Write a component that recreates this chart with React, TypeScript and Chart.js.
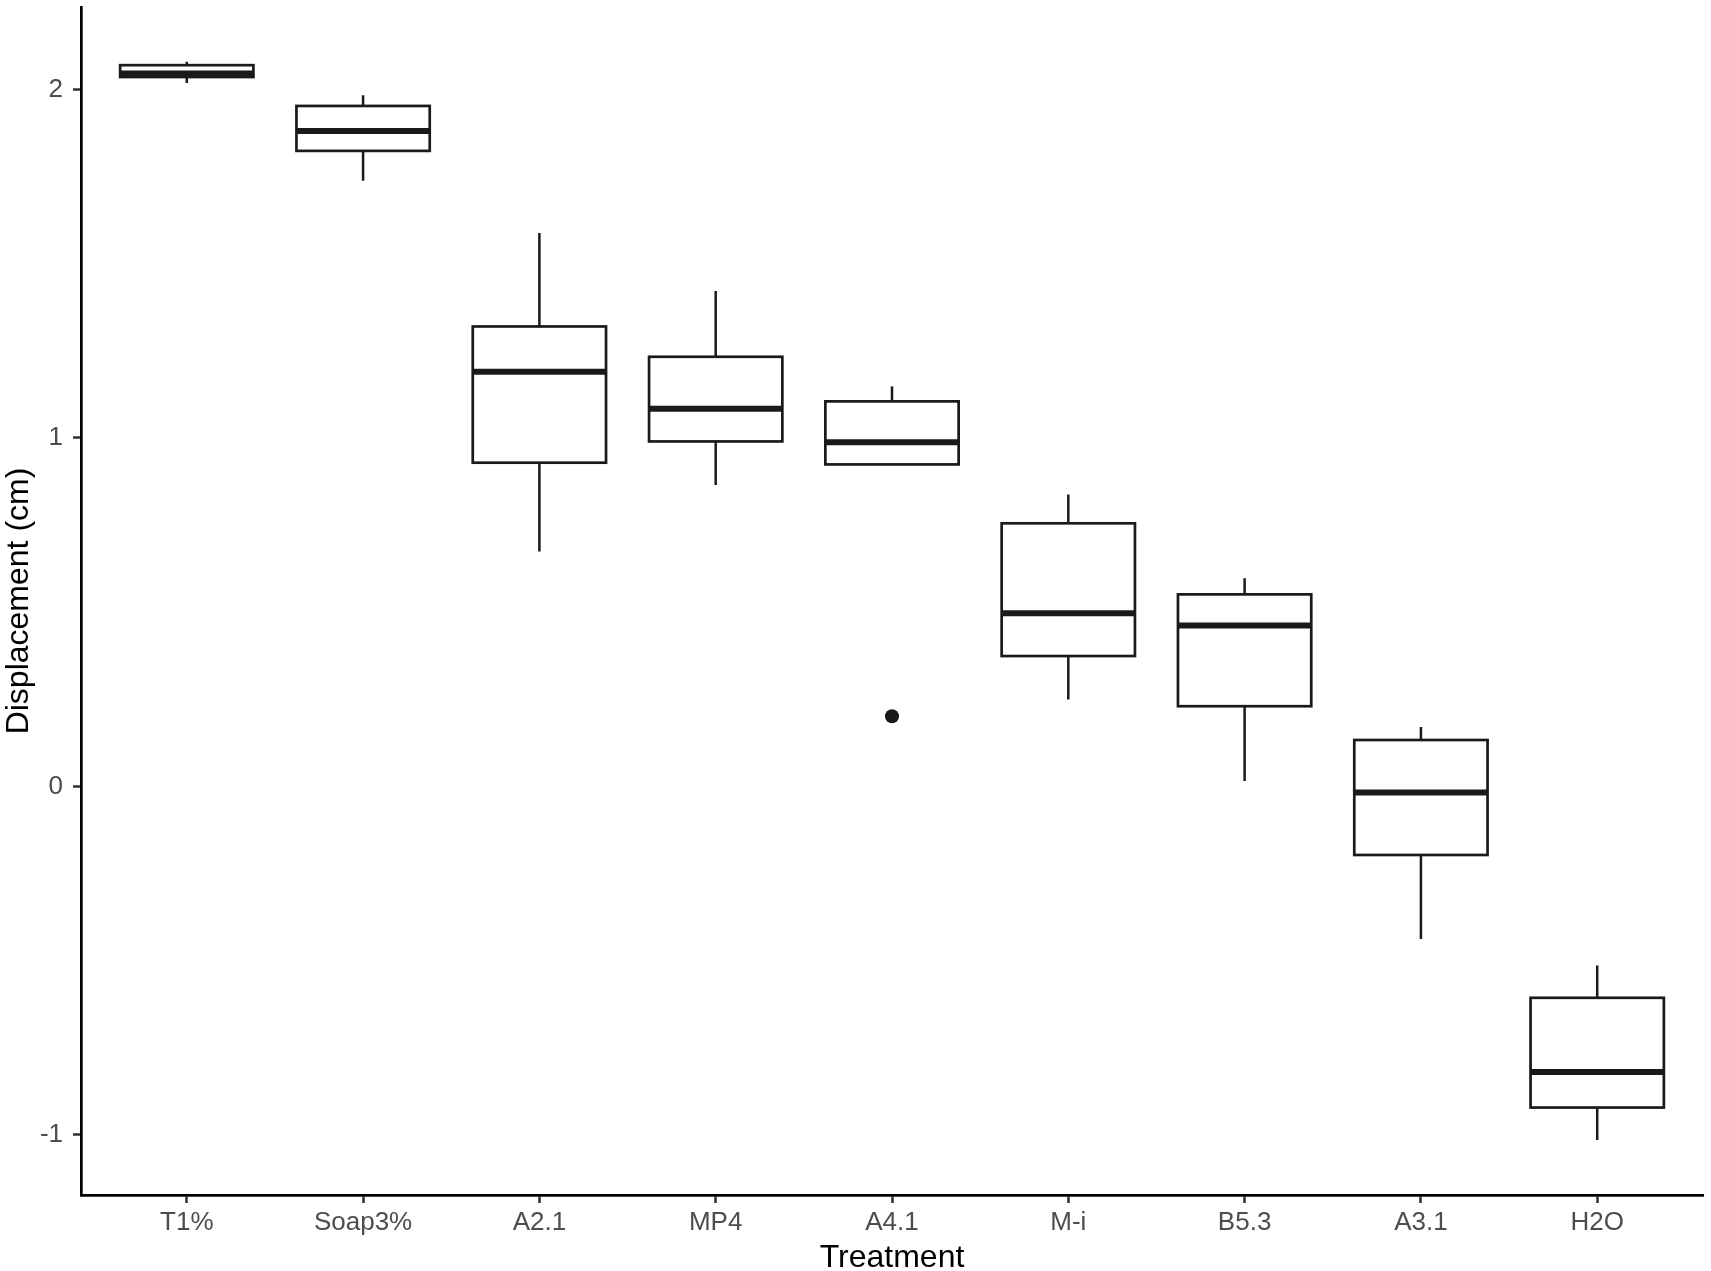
import { useEffect, useRef } from 'react';
import { Chart, registerables } from 'chart.js';

Chart.register(...registerables);

// treatments, left to right
const treatments = ['T1%', 'Soap3%', 'A2.1', 'MP4', 'A4.1', 'M-i', 'B5.3', 'A3.1', 'H2O'];

// box statistics (cm)
const whiskerHigh = [2.08, 1.984, 1.588, 1.422, 1.148, 0.838, 0.597, 0.17, -0.514];
const upperQuartile = [2.07, 1.953, 1.32, 1.233, 1.105, 0.755, 0.551, 0.133, -0.607];
const medians = [2.046, 1.881, 1.19, 1.084, 0.988, 0.497, 0.462, -0.018, -0.82];
const lowerQuartile = [2.036, 1.824, 0.929, 0.99, 0.924, 0.374, 0.23, -0.197, -0.922];
const whiskerLow = [2.019, 1.738, 0.674, 0.865, 0.924, 0.249, 0.015, -0.438, -1.015];

// points outside the whiskers
const outlierGroups = ['A4.1'];
const outlierValues = [0.201];

const yTicks = [-1, 0, 1, 2];

const INK = '#1a1a1a';
const FONT = "'Liberation Sans', Arial, Helvetica, sans-serif";
const BOX_HALF = 0.378; // in category units

const boxPlugin = {
  id: 'boxes',
  beforeDatasetsDraw(chart) {
    const { ctx } = chart;
    const x = chart.scales.x;
    const y = chart.scales.y;
    ctx.save();
    treatments.forEach((_, i) => {
      const cx = x.getPixelForValue(i);
      const half = Math.abs(x.getPixelForValue(i + BOX_HALF) - cx);
      const top = y.getPixelForValue(upperQuartile[i]);
      const bottom = y.getPixelForValue(lowerQuartile[i]);
      const hi = y.getPixelForValue(whiskerHigh[i]);
      const lo = y.getPixelForValue(whiskerLow[i]);
      const mid = y.getPixelForValue(medians[i]);

      // whiskers
      ctx.strokeStyle = INK;
      ctx.lineCap = 'butt';
      ctx.lineWidth = 2.5;
      ctx.beginPath();
      ctx.moveTo(cx, hi);
      ctx.lineTo(cx, top);
      ctx.moveTo(cx, bottom);
      ctx.lineTo(cx, lo);
      ctx.stroke();

      // box
      ctx.fillStyle = '#ffffff';
      ctx.fillRect(cx - half, top, half * 2, bottom - top);
      ctx.lineWidth = 2.7;
      ctx.strokeRect(cx - half, top, half * 2, bottom - top);

      // median
      ctx.lineWidth = 6;
      ctx.beginPath();
      ctx.moveTo(cx - half, mid);
      ctx.lineTo(cx + half, mid);
      ctx.stroke();
    });
    ctx.restore();
  },
};

export default function App() {
  const canvasRef = useRef(null);

  useEffect(() => {
    document.body.style.margin = '0';
    if (!canvasRef.current) return;
    const ctx = canvasRef.current.getContext('2d');
    if (!ctx) return;

    const chart = new Chart(ctx, {
      type: 'scatter',
      data: {
        datasets: [
          {
            label: 'outliers',
            data: outlierGroups.map((g, i) => ({ x: treatments.indexOf(g), y: outlierValues[i] })),
            backgroundColor: INK,
            borderColor: INK,
            pointRadius: 7,
            borderWidth: 0,
          },
        ],
      },
      options: {
        animation: false,
        responsive: true,
        maintainAspectRatio: false,
        layout: { padding: { top: 4, right: 8, left: 0, bottom: 0 } },
        plugins: {
          legend: { display: false },
          tooltip: { enabled: false },
        },
        scales: {
          x: {
            type: 'linear',
            min: -0.6,
            max: treatments.length - 1 + 0.6,
            afterBuildTicks: (s) => {
              s.ticks = treatments.map((_, i) => ({ value: i }));
            },
            afterFit: (s) => {
              s.height = 76;
              s.paddingLeft = 0;
              s.paddingRight = 0;
            },
            grid: {
              drawOnChartArea: false,
              drawTicks: true,
              tickLength: 8,
              tickWidth: 2.5,
              tickColor: '#333333',
            },
            border: { display: true, color: '#000000', width: 2.7 },
            ticks: {
              autoSkip: false,
              maxRotation: 0,
              padding: 4,
              color: '#4d4d4d',
              font: { family: FONT, size: 26 },
              callback: (v) => treatments[v] ?? '',
            },
            title: {
              display: true,
              text: 'Treatment',
              color: '#000000',
              font: { family: FONT, size: 32 },
              padding: { top: 0, bottom: -6 },
            },
          },
          y: {
            min: -1.173,
            max: 2.237,
            afterBuildTicks: (s) => {
              s.ticks = yTicks.map((v) => ({ value: v }));
            },
            afterFit: (s) => {
              s.width = 81;
              s.paddingTop = 0;
              s.paddingBottom = 0;
            },
            grid: {
              drawOnChartArea: false,
              drawTicks: true,
              tickLength: 8,
              tickWidth: 2.5,
              tickColor: '#333333',
            },
            border: { display: true, color: '#000000', width: 2.7 },
            ticks: {
              padding: 10,
              color: '#4d4d4d',
              font: { family: FONT, size: 26 },
              callback: (v) => String(v),
            },
            title: {
              display: true,
              text: 'Displacement (cm)',
              color: '#000000',
              font: { family: FONT, size: 32 },
              padding: { top: 0, bottom: 0 },
            },
          },
        },
      },
      plugins: [boxPlugin],
    });

    return () => {
      chart.destroy();
    };
  }, []);

  return (
    <div style={{ position: 'relative', width: '1711px', height: '1271px', background: '#ffffff' }}>
      <canvas ref={canvasRef} />
    </div>
  );
}
